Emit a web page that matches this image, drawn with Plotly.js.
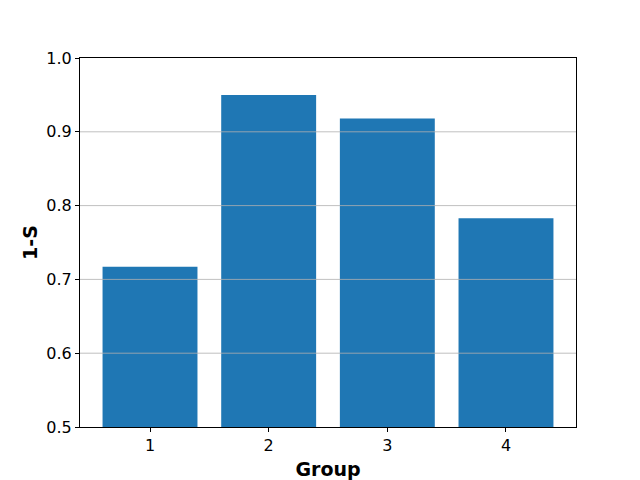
<!DOCTYPE html>
<html>
<head>
<meta charset="utf-8">
<script src="https://cdn.plot.ly/plotly-3.0.1.min.js"></script>
<style>html,body{margin:0;padding:0;background:#fff}#chart{width:640px;height:480px}</style>
</head>
<body>
<div id="chart"></div>
<script>
// bar chart: 1-S per group
const groups = [1, 2, 3, 4];
const values = [0.717, 0.950, 0.918, 0.783];
const yTicks = [0.5, 0.6, 0.7, 0.8, 0.9, 1.0];
const gridTicks = [0.6, 0.7, 0.8, 0.9];

const FONT = 'DejaVu Sans, sans-serif';

// matplotlib draws its grid over the bars here, so use shapes on top
const gridShapes = gridTicks.map(v => ({
  type: 'line', xref: 'paper', yref: 'y', x0: 0, x1: 1, y0: v, y1: v,
  line: {color: '#b0b0b0', width: 0.8}, layer: 'above'
}));

const axBase = {
  showline: true, mirror: true, linecolor: '#000', linewidth: 1,
  ticks: 'outside', ticklen: 4, tickwidth: 1, tickcolor: '#000',
  tickfont: {family: FONT, size: 16, color: '#000'},
  zeroline: false, showgrid: false
};

Plotly.newPlot('chart', [{
  type: 'bar', x: groups, y: values, width: 0.8,
  marker: {color: '#1f77b4', line: {width: 0}},
  hoverinfo: 'skip'
}], {
  width: 640, height: 480,
  margin: {l: 80, r: 64, t: 58, b: 53},
  paper_bgcolor: '#fff', plot_bgcolor: '#fff',
  showlegend: false,
  xaxis: {...axBase, range: [0.41, 4.59], tickvals: groups, ticktext: groups.map(String),
    title: {text: '<b>Group</b>', font: {family: FONT, size: 19, color: '#000'}, standoff: 8}},
  yaxis: {...axBase, range: [0.5, 1.0], tickvals: yTicks, ticktext: yTicks.map(v => v.toFixed(1)),
    title: {text: '<b>1-S</b>', font: {family: FONT, size: 19, color: '#000'}, standoff: 3}},
  shapes: gridShapes
}, {displayModeBar: false, staticPlot: true});
</script>
</body>
</html>
